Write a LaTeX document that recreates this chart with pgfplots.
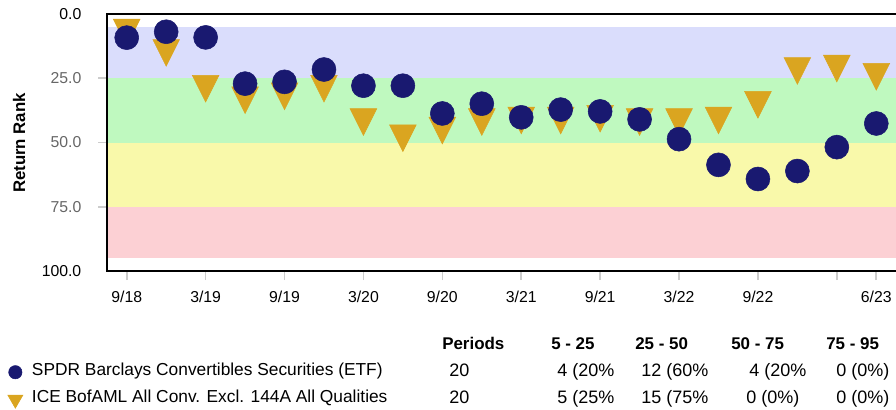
\documentclass[border=0pt]{standalone}
\usepackage{pgfplots}
\pgfplotsset{compat=1.18}
\usepackage{fontspec}
\setmainfont{Liberation Sans}
\definecolor{navy}{HTML}{191970}
\definecolor{gold}{HTML}{DAA520}
\definecolor{bandblue}{HTML}{DADDFC}
\definecolor{bandgreen}{HTML}{BFF9BF}
\definecolor{bandyellow}{HTML}{F9F9AA}
\definecolor{bandred}{HTML}{FCD0D4}
\definecolor{tickgray}{HTML}{666666}
\newcommand{\px}{0.75pt}
\newcommand{\tfont}{\fontsize{13.5}{16}\selectfont}
\newcommand{\lfont}{\fontsize{13}{15.5}\selectfont}
\newcommand{\hfont}{\bfseries\fontsize{12.7}{15}\selectfont}
\begin{document}
\begin{tikzpicture}
\useasboundingbox (0,0) rectangle (672pt,-307.5pt);
\begin{axis}[
  at={(80.25pt,-10.5pt)}, anchor=north west,
  scale only axis, width=591.75pt, height=192.75pt,
  xmin=-0.5, xmax=19.5, ymin=0, ymax=100, y dir=reverse,
  axis line style={draw=none},
  clip=false,
  xtick={0,2,4,6,8,10,12,14,16,18,19},
  xticklabels={9/18,3/19,9/19,3/20,9/20,3/21,9/21,3/22,9/22,,6/23},
  ytick={25,50,75}, yticklabels={25.0,50.0,75.0},
  extra y ticks={0,100}, extra y tick labels={0.0,100.0},
  extra y tick style={major tick style={draw=none}, yticklabel style={text=black}},
  xtick pos=left, ytick pos=left,
  tick align=outside, major tick length=6.75pt,
  major tick style={draw=black!20, line width=1.2pt},
  ticklabel style={font=\fontsize{11.85}{14}\selectfont},
  yticklabel style={text=tickgray, xshift=-9pt},
  xticklabel style={yshift=-4.8pt},
  legend style={at={(axis description cs:-0.126,-0.447)}, anchor=west,
    draw=none, fill=none, inner sep=0pt, row sep=4.3pt,
    font=\lfont, nodes={inner sep=0.31em, text height=0.75em, text depth=0.25em},
    /tikz/every odd column/.append style={column sep=3.75pt}},
  legend cell align=left,
]
% bands
\addplot[fill=bandblue, draw=none, forget plot] coordinates {(-0.5,5) (19.5,5) (19.5,25) (-0.5,25)} -- cycle;
\addplot[fill=bandgreen, draw=none, forget plot] coordinates {(-0.5,25) (19.5,25) (19.5,50) (-0.5,50)} -- cycle;
\addplot[fill=bandyellow, draw=none, forget plot] coordinates {(-0.5,50) (19.5,50) (19.5,75) (-0.5,75)} -- cycle;
\addplot[fill=bandred, draw=none, forget plot] coordinates {(-0.5,75) (19.5,75) (19.5,95) (-0.5,95)} -- cycle;
% ICE BofAML index
\addplot[only marks, forget plot, color=gold, mark=triangle*, mark size=11.55pt,
  mark options={rotate=180, yscale=1.155, draw=none, fill=gold}] coordinates {
(0,5.5) (1,13.4) (2,27.3) (3,31.8) (4,30.3) (5,27.3) (6,40.3) (7,46.6) (8,43.6) (9,40.3)
(10,39.7) (11,39.7) (12,39.0) (13,40.3) (14,40.3) (15,39.7) (16,33.6) (17,20.4) (18,19.5) (19,22.7)};
% SPDR ETF
\addplot[only marks, forget plot, color=navy, mark=*, mark size=9pt,
  mark options={draw=none, fill=navy}] coordinates {
(0,9.2) (1,6.9) (2,9.1) (3,27.1) (4,26.4) (5,21.6) (6,27.9) (7,27.9) (8,38.7) (9,34.9)
(10,40.2) (11,37.2) (12,37.9) (13,41.0) (14,48.7) (15,58.7) (16,64.2) (17,61.1) (18,51.8) (19,42.6)};
\addlegendimage{only marks, color=navy, mark=*, mark size=5pt, mark options={draw=none, fill=navy}}
\addlegendentry{SPDR Barclays Convertibles Securities (ETF)}
\addlegendimage{only marks, color=gold, mark=triangle*, mark size=6.5pt, mark options={rotate=180, draw=none, fill=gold}}
\addlegendentry{ICE BofAML All Conv. Excl. 144A All Qualities}
\draw[line width=1.5pt, black] (rel axis cs:1,1) -- (rel axis cs:0,1) -- (rel axis cs:0,0) -- (rel axis cs:1,0);
\end{axis}
\node[rotate=90, font=\bfseries\fontsize{12.6}{15}\selectfont, inner sep=0pt] at (19*\px,-143*\px) {Return Rank};
% table header
\node[anchor=base west, inner sep=0pt, font=\hfont] at (442*\px,-349*\px) {Periods};
\node[anchor=base west, inner sep=0pt, font=\hfont] at (551*\px,-349*\px) {5 - 25};
\node[anchor=base west, inner sep=0pt, font=\hfont] at (635*\px,-349*\px) {25 - 50};
\node[anchor=base west, inner sep=0pt, font=\hfont] at (731*\px,-349*\px) {50 - 75};
\node[anchor=base west, inner sep=0pt, font=\hfont] at (826*\px,-349*\px) {75 - 95};
% row 1
\node[anchor=base west, inner sep=0pt, font=\tfont] at (449*\px,-376*\px) {20};
\node[anchor=base west, inner sep=0pt, font=\tfont] at (557*\px,-376*\px) {4 (20\%};
\node[anchor=base west, inner sep=0pt, font=\tfont] at (641*\px,-376*\px) {12 (60\%};
\node[anchor=base west, inner sep=0pt, font=\tfont] at (749*\px,-376*\px) {4 (20\%};
\node[anchor=base west, inner sep=0pt, font=\tfont] at (836*\px,-376*\px) {0 (0\%)};
% row 2
\node[anchor=base west, inner sep=0pt, font=\tfont] at (449*\px,-403.5*\px) {20};
\node[anchor=base west, inner sep=0pt, font=\tfont] at (557*\px,-403.5*\px) {5 (25\%};
\node[anchor=base west, inner sep=0pt, font=\tfont] at (641*\px,-403.5*\px) {15 (75\%};
\node[anchor=base west, inner sep=0pt, font=\tfont] at (746*\px,-403.5*\px) {0 (0\%)};
\node[anchor=base west, inner sep=0pt, font=\tfont] at (836*\px,-403.5*\px) {0 (0\%)};
\end{tikzpicture}
\end{document}
